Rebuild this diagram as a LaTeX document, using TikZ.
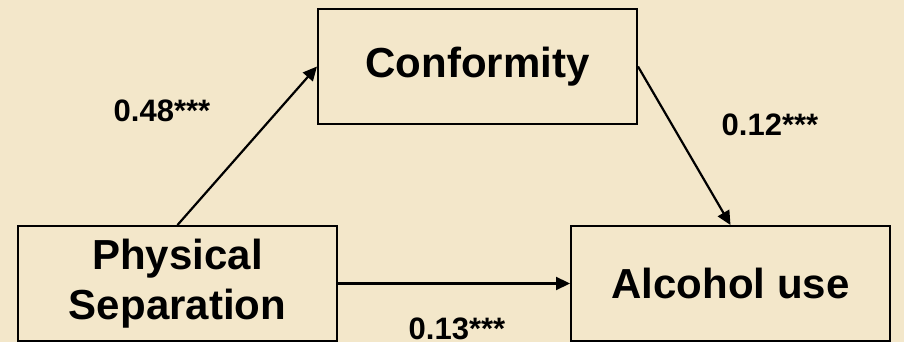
\documentclass[tikz,border=0pt]{standalone}
\usepackage{fontspec}
\setmainfont{Liberation Sans}
\usetikzlibrary{arrows.meta}
\definecolor{parchment}{HTML}{F3E7CA}
\tikzset{
  varbox/.style={draw, line width=1pt, fill=parchment, minimum width=159.5pt,
    minimum height=57.5pt, inner sep=0pt, align=center,
    font=\fontsize{21}{25}\selectfont\bfseries},
  coef/.style={inner sep=0pt, font=\fontsize{15.5}{18}\selectfont\bfseries},
  effect/.style={-{Triangle[length=7pt,width=6.5pt]}, line width=1.1pt}
}
\begin{document}
\begin{tikzpicture}[x=0.5pt,y=0.5pt]
\fill[parchment] (0,0) rectangle (904,342);
\useasboundingbox (0,0) rectangle (904,342);
% variables
\node[varbox] (phys) at (177.5,58.5) {Physical\\Separation};
\node[varbox] (conf) at (477.5,275.5) {Conformity};
\node[varbox] (alc)  at (730.5,58.5) {Alcohol use};
% paths
\draw[effect] (phys.north) -- (conf.west);
\draw[effect] (conf.east) -- (alc.north);
\draw[effect] (phys.east) -- (alc.west);
% coefficients
\node[coef] (c48) at (162,231) {0.48***};
\node[coef] (c12) at (770,217) {0.12***};
\node[coef] (c13) at (457,13) {0.13***};
\end{tikzpicture}
\end{document}
